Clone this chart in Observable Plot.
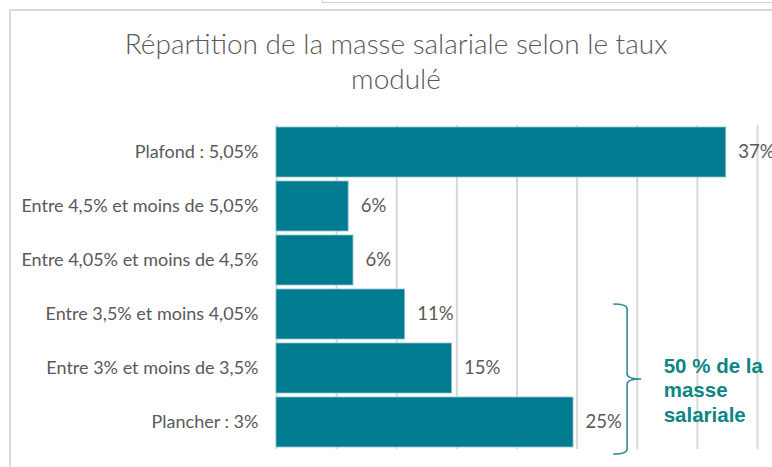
<!DOCTYPE html>
<html><head><meta charset="utf-8">
<script src="https://cdn.jsdelivr.net/npm/d3@7"></script>
<script src="https://cdn.jsdelivr.net/npm/@observablehq/plot@0.6"></script>
<style>
body{margin:0;background:#fff;}
#wrap{position:relative;width:772px;height:467px;overflow:hidden;font-family:Lato,sans-serif;background:#fff}
#frame{position:absolute;left:9px;top:9px;width:900px;height:600px;border:2px solid #d9d9d9;box-sizing:border-box}
#frame2{position:absolute;left:322px;top:-20px;width:600px;height:23px;border:1.5px solid #d0d0d0;box-sizing:border-box}
#title{position:absolute;left:96px;width:600px;top:26px;text-align:center;font-size:28px;font-weight:300;color:#595959;line-height:35px;margin:0}
#chart{position:absolute;left:0;top:0}
</style></head>
<body>
<div id="wrap">
  <div id="frame"></div>
  <div id="frame2"></div>
  <div id="chart"></div>
  <h2 id="title">Répartition de la masse salariale selon le taux<br>modulé</h2>
</div>
<script>
const categories = [
  "Plafond : 5,05%",
  "Entre 4,5% et moins de 5,05%",
  "Entre 4,05% et moins de 4,5%",
  "Entre 3,5% et moins 4,05%",
  "Entre 3% et moins de 3,5%",
  "Plancher : 3%"
];
const values = [37.4, 6.0, 6.4, 10.7, 14.6, 24.7];
const valueLabels = ["37%", "6%", "6%", "11%", "15%", "25%"];
const gridTicks = [0, 5, 10, 15, 20, 25, 30, 35, 40];
const braceCategories = ["Entre 3,5% et moins 4,05%", "Plancher : 3%"];
const braceValue = 29.2;
const noteValue = 32.2;
const noteText = "50 % de la\nmasse\nsalariale";

const data = categories.map((c, i) => ({category: c, value: values[i], label: valueLabels[i]}));

function brace(index, scales) {
  const x = scales.x(braceValue);
  const bw = scales.y.bandwidth ? scales.y.bandwidth() : 50;
  const y0 = scales.y(braceCategories[0]) + 15;
  const y1 = scales.y(braceCategories[1]) + bw + 7;
  const ym = (y0 + y1) / 2;
  const arm = 14, tip = 14, r = 5;
  const p = d3.path();
  p.moveTo(x - arm, y0);
  p.quadraticCurveTo(x, y0, x, y0 + r);
  p.lineTo(x, ym - r);
  p.quadraticCurveTo(x, ym, x + tip, ym);
  p.quadraticCurveTo(x, ym, x, ym + r);
  p.lineTo(x, y1 - r);
  p.quadraticCurveTo(x, y1, x - arm, y1);
  const path = document.createElementNS("http://www.w3.org/2000/svg", "path");
  path.setAttribute("d", p.toString());
  path.setAttribute("fill", "none");
  path.setAttribute("stroke", "#2f8c9c");
  path.setAttribute("stroke-width", "1.6");
  const g = document.createElementNS("http://www.w3.org/2000/svg", "g");
  g.appendChild(path);
  return g;
}

const chart = Plot.plot({
  width: 772,
  height: 467,
  marginLeft: 276,
  marginRight: 15,
  marginTop: 125,
  marginBottom: 18,
  style: {fontFamily: "Lato, sans-serif", background: "transparent", overflow: "visible"},
  x: {domain: [0, 40], axis: null},
  y: {domain: categories, paddingInner: 0.065, paddingOuter: 0.03, label: null},
  marks: [
    Plot.gridX(gridTicks, {stroke: "#d9d9d9", strokeOpacity: 1, strokeWidth: 2}),
    Plot.barX(data, {y: "category", x: "value", fill: "#007b8f", stroke: "#8cc3cd", strokeWidth: 0.8}),
    Plot.text(data, {y: "category", x: "value", text: "label", dx: 12, textAnchor: "start", fill: "#595959", fontSize: 18.5}),
    Plot.axisY({tickSize: 0, tickPadding: 18, fontSize: 18, fill: "#595959", label: null}),
    brace,
    Plot.text([noteText], {x: noteValue, y: [categories[4]], text: d => d, dy: 21, textAnchor: "start", lineHeight: 1.2, fontSize: 20.5, fontWeight: "bold", fontFamily: "Liberation Sans, Arial, sans-serif", fill: "#0b8585"})
  ]
});
document.getElementById("chart").appendChild(chart);
</script>
</body></html>
